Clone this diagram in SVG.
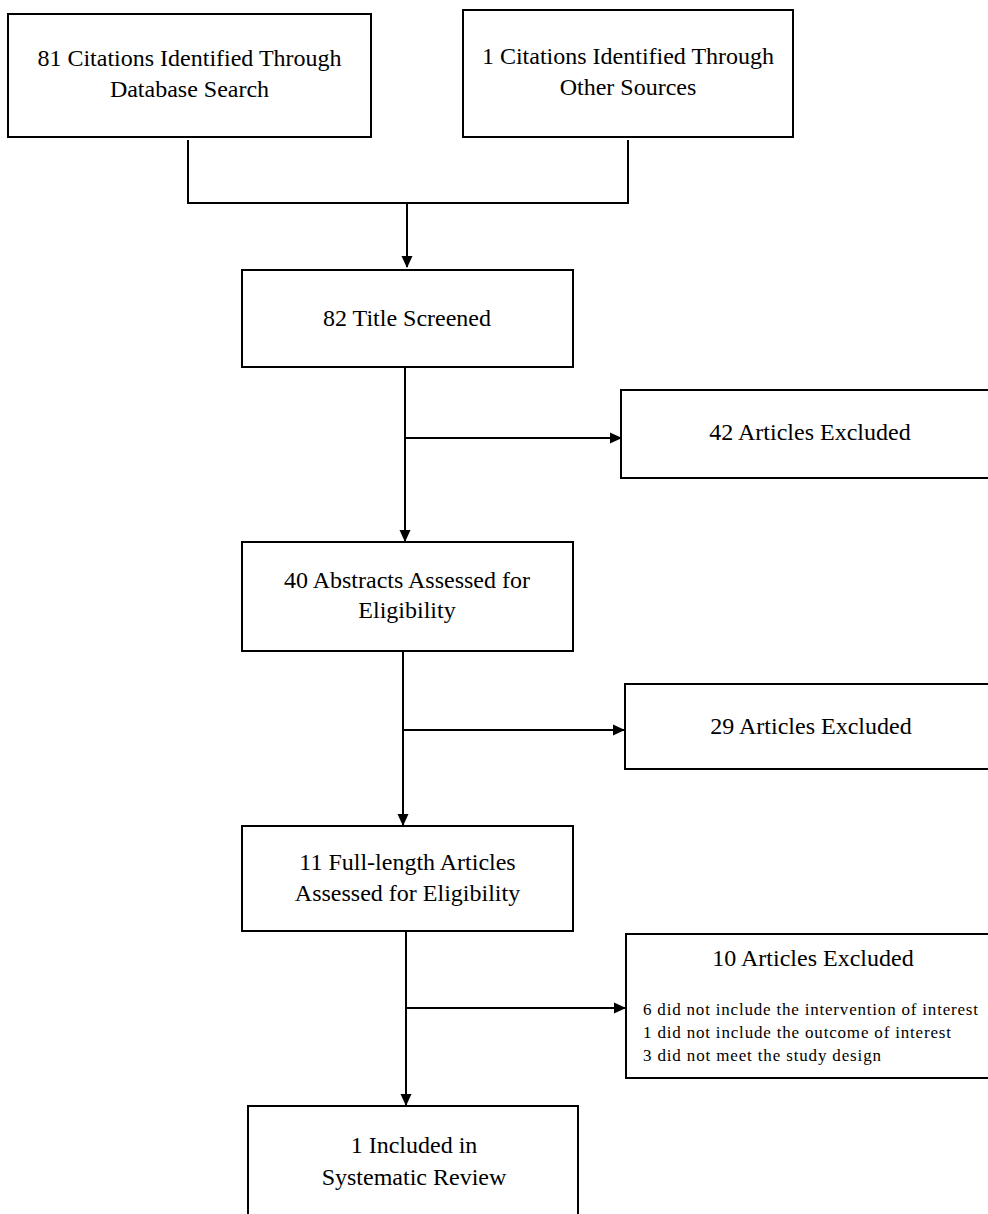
<svg xmlns="http://www.w3.org/2000/svg" width="988" height="1214" viewBox="0 0 988 1214">
<defs>
<style>
.box{fill:#fff;stroke:#000;stroke-width:2}
.t{font-family:"Liberation Serif","Times New Roman",serif;font-size:24px;fill:#000;text-anchor:middle}
.s{font-family:"Liberation Serif","Times New Roman",serif;font-size:17px;fill:#000}
.c{fill:none;stroke:#000;stroke-width:2}
</style>
<marker id="ah" markerWidth="12" markerHeight="12" refX="11" refY="6" orient="auto" markerUnits="userSpaceOnUse" viewBox="0 0 12 12">
<path d="M0,0.5 L12,6 L0,11.5 Z" fill="#000"/>
</marker>
</defs>
<rect width="988" height="1214" fill="#fff"/>
<g id="connectors">
<polyline class="c" points="188,140 188,203 628,203 628,140"/>
<line class="c" x1="407" y1="203" x2="407" y2="267" marker-end="url(#ah)"/>
<line class="c" x1="405" y1="367" x2="405" y2="541" marker-end="url(#ah)"/>
<line class="c" x1="405" y1="438" x2="621" y2="438" marker-end="url(#ah)"/>
<line class="c" x1="403" y1="651" x2="403" y2="825" marker-end="url(#ah)"/>
<line class="c" x1="403" y1="730" x2="624" y2="730" marker-end="url(#ah)"/>
<line class="c" x1="406" y1="931" x2="406" y2="1105" marker-end="url(#ah)"/>
<line class="c" x1="406" y1="1008" x2="625" y2="1008" marker-end="url(#ah)"/>
</g>
<g id="n1"><rect class="box" x="8" y="14" width="363" height="123"/>
<text class="t" x="189.5" y="66">81 Citations Identified Through</text>
<text class="t" x="189.5" y="97">Database Search</text></g>
<g id="n2"><rect class="box" x="463" y="10" width="330" height="127"/>
<text class="t" x="628" y="64">1 Citations Identified Through</text>
<text class="t" x="628" y="95">Other Sources</text></g>
<g id="n3"><rect class="box" x="242" y="270" width="331" height="97"/>
<text class="t" x="407" y="326">82 Title Screened</text></g>
<g id="n4"><rect class="box" x="621" y="390" width="370" height="88"/>
<text class="t" x="810" y="440">42 Articles Excluded</text></g>
<g id="n5"><rect class="box" x="242" y="542" width="331" height="109"/>
<text class="t" x="407" y="588">40 Abstracts Assessed for</text>
<text class="t" x="407" y="618">Eligibility</text></g>
<g id="n6"><rect class="box" x="625" y="684" width="366" height="85"/>
<text class="t" x="811" y="734">29 Articles Excluded</text></g>
<g id="n7"><rect class="box" x="242" y="826" width="331" height="105"/>
<text class="t" x="407.5" y="870">11 Full-length Articles</text>
<text class="t" x="407.5" y="901">Assessed for Eligibility</text></g>
<g id="n8"><rect class="box" x="626" y="934" width="365" height="144"/>
<text class="t" x="813" y="966">10 Articles Excluded</text>
<text class="s" x="643" y="1015" textLength="335" lengthAdjust="spacing">6 did not include the intervention of interest</text>
<text class="s" x="643" y="1038" textLength="308" lengthAdjust="spacing">1 did not include the outcome of interest</text>
<text class="s" x="643" y="1061" textLength="238" lengthAdjust="spacing">3 did not meet the study design</text></g>
<g id="n9"><rect class="box" x="248" y="1106" width="330" height="112"/>
<text class="t" x="414" y="1153">1 Included in</text>
<text class="t" x="414" y="1185">Systematic Review</text></g>
</svg>
